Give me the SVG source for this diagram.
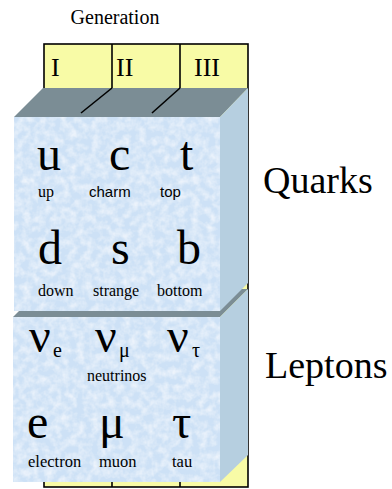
<svg xmlns="http://www.w3.org/2000/svg" width="392" height="489" viewBox="0 0 392 489">
<defs>
<style>
.serif{font-family:"Liberation Serif","Times New Roman",serif;fill:#000}
.sans{font-family:"Liberation Sans",Arial,sans-serif;fill:#000}
.big{font-size:48px}
.lab{font-size:16px}
.sub{font-size:20px}
.title{font-size:38px}
.top{fill:#7b8d95}
.side{fill:#b6cfe0}
.front{fill:#cde1f6}
.edge{stroke:#000;stroke-width:1.6;fill:none}
</style>
<filter id="tex" x="0" y="0" width="100%" height="100%">
<feTurbulence type="fractalNoise" baseFrequency="0.13" numOctaves="3" seed="7" result="n"/>
<feColorMatrix in="n" type="matrix" values="0 0 0 0 1  0 0 0 0 1  0 0 0 0 1  0 0 0 1.1 -0.38" result="w"/>
<feComposite in="w" in2="SourceGraphic" operator="in" result="wc"/>
<feMerge><feMergeNode in="SourceGraphic"/><feMergeNode in="wc"/></feMerge>
</filter>
</defs>
<rect width="392" height="489" fill="#fff"/>

<g id="generation">
<text class="serif" x="115" y="24" font-size="20" text-anchor="middle">Generation</text>
<rect x="44" y="44" width="204" height="443" fill="#f8fba6" stroke="#000" stroke-width="1.6"/>
<line class="edge" x1="112" y1="44" x2="112" y2="487"/>
<line class="edge" x1="180" y1="44" x2="180" y2="487"/>
<text class="serif" x="51" y="76" font-size="26">I</text>
<text class="serif" x="116" y="76" font-size="26">II</text>
<text class="serif" x="194" y="76" font-size="26">III</text>
</g>

<g id="leptons">
<polygon class="top" points="41,289 248,289 220,317 13,317"/>
<polygon class="side" points="220,317 248,289 248,455 220,482"/>
<rect class="front" x="13" y="317" width="207" height="165" filter="url(#tex)"/>
<text class="serif big" x="29" y="352">ν</text><text class="serif sub" x="53" y="357">e</text>
<text class="serif big" x="95" y="352">ν</text><text class="serif sub" x="119" y="357">μ</text>
<text class="serif big" x="167" y="352">ν</text><text class="serif sub" x="192" y="357">τ</text>
<text class="serif lab" x="87" y="381">neutrinos</text>
<text class="serif big" x="27" y="438">e</text>
<text class="serif big" x="99" y="438">μ</text>
<text class="serif big" x="172" y="438">τ</text>
<text class="serif" x="28" y="467" font-size="16.5">electron</text>
<text class="serif" x="99" y="467" font-size="16.5">muon</text>
<text class="serif" x="172" y="467" font-size="16.5">tau</text>
</g>

<g id="quarks">
<polygon class="top" points="43,88 248,88 220,117 14,117"/>
<polygon class="side" points="220,117 248,88 248,283 220,311"/>
<rect class="front" x="14" y="117" width="206" height="194" filter="url(#tex)"/>
<text class="serif big" x="37" y="170">u</text>
<text class="serif big" x="109" y="170">c</text>
<text class="serif big" x="180" y="170">t</text>
<text class="serif lab" x="38" y="197">up</text>
<text class="sans" x="89" y="197" font-size="15">charm</text>
<text class="sans" x="160" y="197" font-size="15">top</text>
<text class="serif big" x="38" y="264">d</text>
<text class="serif big" x="111" y="264">s</text>
<text class="serif big" x="177" y="264">b</text>
<text class="serif lab" x="38" y="296">down</text>
<text class="serif lab" x="93" y="296">strange</text>
<text class="serif lab" x="157" y="296">bottom</text>
</g>

<g id="connectors">
<line class="edge" x1="112" y1="88" x2="81" y2="113"/>
<line class="edge" x1="180" y1="88" x2="152" y2="113"/>
</g>

<g id="labels">
<text class="serif title" x="263" y="193">Quarks</text>
<text class="serif title" x="265" y="378">Leptons</text>
</g>
</svg>
